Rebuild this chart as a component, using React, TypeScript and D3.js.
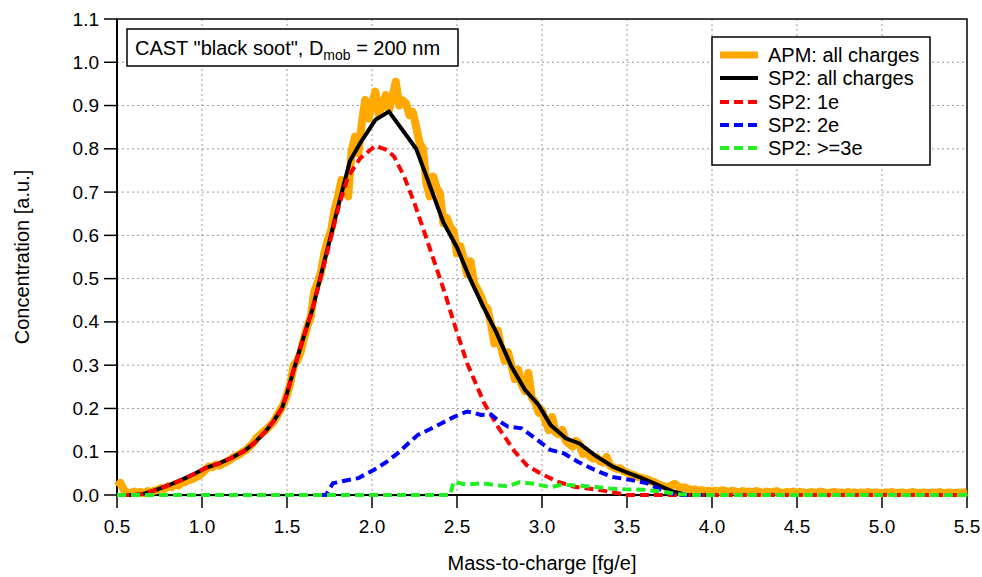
import React from "react";
import * as d3 from "d3";

// APM: all charges, sampled every 0.02 fg/e from 0.50 to 5.50
const apmStart = 0.5;
const apmStep = 0.02;
const apmValues = [
  0.020, 0.028, 0.012, 0.006, 0.004, 0.008, 0.005, 0.007, 0.004, 0.009,
  0.006, 0.010, 0.012, 0.016, 0.014, 0.020, 0.018, 0.024, 0.022, 0.028,
  0.030, 0.034, 0.036, 0.040, 0.044, 0.050, 0.058, 0.066, 0.064, 0.070,
  0.068, 0.072, 0.076, 0.080, 0.086, 0.090, 0.094, 0.100, 0.104, 0.112,
  0.120, 0.132, 0.138, 0.146, 0.152, 0.160, 0.168, 0.182, 0.196, 0.210,
  0.232, 0.258, 0.300, 0.310, 0.330, 0.362, 0.390, 0.412, 0.470, 0.490,
  0.515, 0.560, 0.590, 0.612, 0.660, 0.690, 0.728, 0.705, 0.690, 0.795,
  0.828, 0.790, 0.860, 0.913, 0.870, 0.905, 0.932, 0.880, 0.900, 0.924,
  0.890, 0.920, 0.955, 0.900, 0.912, 0.905, 0.878, 0.885, 0.850, 0.813,
  0.800, 0.720, 0.690, 0.736, 0.710, 0.697, 0.628, 0.640, 0.620, 0.610,
  0.558, 0.575, 0.545, 0.510, 0.540, 0.490, 0.475, 0.460, 0.438, 0.430,
  0.395, 0.350, 0.380, 0.340, 0.310, 0.330, 0.300, 0.268, 0.290, 0.255,
  0.240, 0.282, 0.225, 0.215, 0.190, 0.196, 0.170, 0.150, 0.180, 0.145,
  0.140, 0.150, 0.125, 0.118, 0.112, 0.125, 0.118, 0.095, 0.102, 0.090,
  0.084, 0.088, 0.078, 0.075, 0.088, 0.068, 0.064, 0.060, 0.062, 0.055,
  0.052, 0.048, 0.046, 0.042, 0.040, 0.038, 0.036, 0.032, 0.030, 0.026,
  0.022, 0.020, 0.018, 0.022, 0.026, 0.020, 0.016, 0.018, 0.014, 0.012,
  0.013, 0.010, 0.011, 0.009, 0.010,
  0.008,
  0.010, 0.008, 0.011, 0.009, 0.007, 0.010, 0.008, 0.006, 0.009, 0.007,
  0.008, 0.006, 0.009, 0.007, 0.005, 0.008, 0.006, 0.007, 0.009, 0.006,
  0.005, 0.007, 0.006, 0.008, 0.005, 0.007, 0.006, 0.004, 0.007, 0.006,
  0.005, 0.008, 0.006, 0.004, 0.006, 0.007, 0.005, 0.006, 0.004, 0.007,
  0.005, 0.006, 0.004, 0.006, 0.005, 0.007, 0.004, 0.006, 0.005, 0.004,
  0.006, 0.005, 0.007, 0.004, 0.005, 0.006, 0.004, 0.005, 0.007, 0.005,
  0.004, 0.006, 0.005, 0.004, 0.006, 0.005, 0.007, 0.004, 0.005, 0.006,
  0.004, 0.005, 0.006, 0.005, 0.007,
];

// SP2: all charges
const sp2AllX = [0.52, 0.60, 0.65, 0.73, 0.80, 0.88, 0.95, 1.02, 1.10, 1.17, 1.25, 1.31, 1.37, 1.42, 1.47, 1.50, 1.54, 1.59, 1.65, 1.72, 1.79, 1.87, 1.93, 2.02, 2.10, 2.26, 2.42, 2.50, 2.58, 2.66, 2.73, 2.82, 2.90, 2.98, 3.05, 3.14, 3.22, 3.31, 3.42, 3.50, 3.58, 3.66, 3.77, 3.85, 4.00];
const sp2AllY = [0.000, 0.000, 0.002, 0.012, 0.022, 0.035, 0.048, 0.062, 0.073, 0.085, 0.102, 0.121, 0.145, 0.170, 0.200, 0.235, 0.290, 0.355, 0.430, 0.540, 0.650, 0.772, 0.813, 0.867, 0.886, 0.800, 0.630, 0.572, 0.497, 0.431, 0.377, 0.297, 0.243, 0.208, 0.162, 0.131, 0.119, 0.092, 0.065, 0.052, 0.040, 0.027, 0.008, 0.000, 0.000];

// SP2: 1e
const sp2OneX = [0.52, 0.60, 0.65, 0.73, 0.80, 0.88, 0.95, 1.02, 1.10, 1.17, 1.25, 1.31, 1.37, 1.42, 1.47, 1.50, 1.54, 1.59, 1.65, 1.72, 1.76, 1.81, 1.86, 1.93, 2.02, 2.09, 2.13, 2.19, 2.25, 2.31, 2.37, 2.43, 2.48, 2.56, 2.66, 2.74, 2.84, 2.91, 2.99, 3.09, 3.19, 3.33, 3.42, 3.50, 5.50];
const sp2OneY = [0.000, 0.000, 0.002, 0.012, 0.022, 0.035, 0.048, 0.062, 0.073, 0.085, 0.102, 0.121, 0.145, 0.170, 0.200, 0.235, 0.290, 0.355, 0.430, 0.535, 0.597, 0.675, 0.736, 0.778, 0.807, 0.797, 0.782, 0.735, 0.674, 0.605, 0.535, 0.465, 0.400, 0.304, 0.212, 0.158, 0.100, 0.069, 0.050, 0.031, 0.019, 0.012, 0.006, 0.000, 0.000];

// SP2: 2e
const sp2TwoX = [1.70, 1.73, 1.77, 1.84, 1.92, 2.01, 2.08, 2.15, 2.21, 2.27, 2.34, 2.41, 2.48, 2.56, 2.60, 2.64, 2.70, 2.75, 2.80, 2.88, 2.96, 3.05, 3.13, 3.21, 3.31, 3.41, 3.52, 3.62, 3.72, 3.80, 4.00];
const sp2TwoY = [0.000, 0.000, 0.027, 0.033, 0.039, 0.058, 0.075, 0.096, 0.118, 0.139, 0.152, 0.166, 0.180, 0.193, 0.190, 0.185, 0.186, 0.170, 0.158, 0.154, 0.131, 0.104, 0.096, 0.077, 0.058, 0.042, 0.035, 0.027, 0.008, 0.000, 0.000];

// SP2: >=3e
const sp2ThreeX = [0.50, 2.46, 2.48, 2.55, 2.65, 2.75, 2.80, 2.87, 2.95, 3.05, 3.12, 3.20, 3.30, 3.40, 3.50, 3.60, 3.70, 3.80, 3.90, 5.50];
const sp2ThreeY = [0.000, 0.000, 0.031, 0.024, 0.027, 0.022, 0.020, 0.030, 0.026, 0.018, 0.024, 0.022, 0.019, 0.015, 0.013, 0.012, 0.008, 0.002, 0.000, 0.000];

const xTicks = [0.5, 1.0, 1.5, 2.0, 2.5, 3.0, 3.5, 4.0, 4.5, 5.0, 5.5];
const yTicks = [0.0, 0.1, 0.2, 0.3, 0.4, 0.5, 0.6, 0.7, 0.8, 0.9, 1.0, 1.1];

const legendLabels = ["APM: all charges", "SP2: all charges", "SP2: 1e", "SP2: 2e", "SP2: >=3e"];

const FONT = "'Liberation Sans', Arial, Helvetica, sans-serif";

export default function App() {
  const W = 982;
  const H = 577;
  const x = d3.scaleLinear().domain([0.5, 5.5]).range([117, 967]);
  const y = d3.scaleLinear().domain([0, 1.1]).range([495, 19]);

  const line = d3
    .line<[number, number]>()
    .x((d) => x(d[0]))
    .y((d) => y(d[1]));

  const apmPts: [number, number][] = apmValues.map((v, i) => [apmStart + i * apmStep, v]);
  const zip = (xs: number[], ys: number[]): [number, number][] => xs.map((v, i) => [v, ys[i]]);

  const series = [
    { pts: apmPts, color: "#FFA800", width: 8, dash: undefined as string | undefined },
    { pts: zip(sp2AllX, sp2AllY), color: "#000000", width: 4, dash: undefined },
    { pts: zip(sp2OneX, sp2OneY), color: "#FF0000", width: 4, dash: "9,5" },
    { pts: zip(sp2TwoX, sp2TwoY), color: "#0000FF", width: 4, dash: "9,5" },
    { pts: zip(sp2ThreeX, sp2ThreeY), color: "#22EE22", width: 4, dash: "9,5" },
  ];

  const [x0, x1] = x.range();
  const [yb, yt] = y.range();

  const legendRowY = [55, 78, 102, 125, 148];

  return (
    <svg
      width={W}
      height={H}
      style={{ position: "absolute", left: 0, top: 0, background: "#fff" }}
      fontFamily={FONT}
    >
      <rect x={0} y={0} width={W} height={H} fill="#fff" />
      {/* grid */}
      <g stroke="#999" strokeWidth={1} strokeDasharray="2,3">
        {xTicks.slice(1, -1).map((t) => (
          <line key={"gx" + t} x1={x(t)} x2={x(t)} y1={yt} y2={yb} />
        ))}
        {yTicks.slice(1, -1).map((t) => (
          <line key={"gy" + t} x1={x0} x2={x1} y1={y(t)} y2={y(t)} />
        ))}
      </g>

      {/* frame */}
      <rect x={x0} y={yt} width={x1 - x0} height={yb - yt} fill="none" stroke="#000" strokeWidth={1.5} />
      <line x1={x0} x2={x0} y1={yt} y2={yb} stroke="#000" strokeWidth={2} />
      <line x1={x0} x2={x1} y1={yb} y2={yb} stroke="#000" strokeWidth={2} />

      {/* y ticks */}
      <g>
        {yTicks.map((t) => (
          <g key={"yt" + t}>
            <line x1={x0 - 13} x2={x0} y1={y(t)} y2={y(t)} stroke="#000" strokeWidth={1.5} />
            <text x={x0 - 18} y={y(t)} textAnchor="end" dominantBaseline="central" fontSize={19}>
              {t.toFixed(1)}
            </text>
          </g>
        ))}
      </g>
      {/* x ticks */}
      <g>
        {xTicks.map((t) => (
          <g key={"xt" + t}>
            <line x1={x(t)} x2={x(t)} y1={yb} y2={yb + 13} stroke="#000" strokeWidth={1.5} />
            <text x={x(t)} y={yb + 31} textAnchor="middle" dominantBaseline="central" fontSize={19}>
              {t.toFixed(1)}
            </text>
          </g>
        ))}
      </g>

      {/* data */}
      {series.map((s, i) => (
        <path
          key={i}
          d={line(s.pts) || ""}
          fill="none"
          stroke={s.color}
          strokeWidth={s.width}
          strokeDasharray={s.dash}
          strokeLinejoin={i === 0 ? "round" : "miter"}
          strokeLinecap="butt"
        />
      ))}

      {/* axis titles */}
      <text x={(x0 + x1) / 2} y={563} textAnchor="middle" dominantBaseline="central" fontSize={20}>
        Mass-to-charge [fg/e]
      </text>
      <text
        transform={`translate(22,${(yt + yb) / 2}) rotate(-90)`}
        textAnchor="middle"
        dominantBaseline="central"
        fontSize={20}
      >
        Concentration [a.u.]
      </text>

      {/* annotation */}
      <rect x={127} y={29} width={331} height={37} fill="#fff" stroke="#000" strokeWidth={1.5} />
      <text x={135} y={55} fontSize={20}>
        CAST "black soot", D
        <tspan fontSize={14} dy={5}>mob</tspan>
        <tspan dy={-5}> = 200 nm</tspan>
      </text>

      {/* legend */}
      <rect x={712} y={37} width={218} height={128} fill="#fff" stroke="#000" strokeWidth={1.5} />
      {series.map((s, i) => (
        <g key={"lg" + i}>
          <line
            x1={720}
            x2={758}
            y1={legendRowY[i]}
            y2={legendRowY[i]}
            stroke={s.color}
            strokeWidth={i === 0 ? 7 : 4}
            strokeDasharray={s.dash}
          />
          <text x={768} y={legendRowY[i]} dominantBaseline="central" fontSize={20}>
            {legendLabels[i]}
          </text>
        </g>
      ))}
    </svg>
  );
}
